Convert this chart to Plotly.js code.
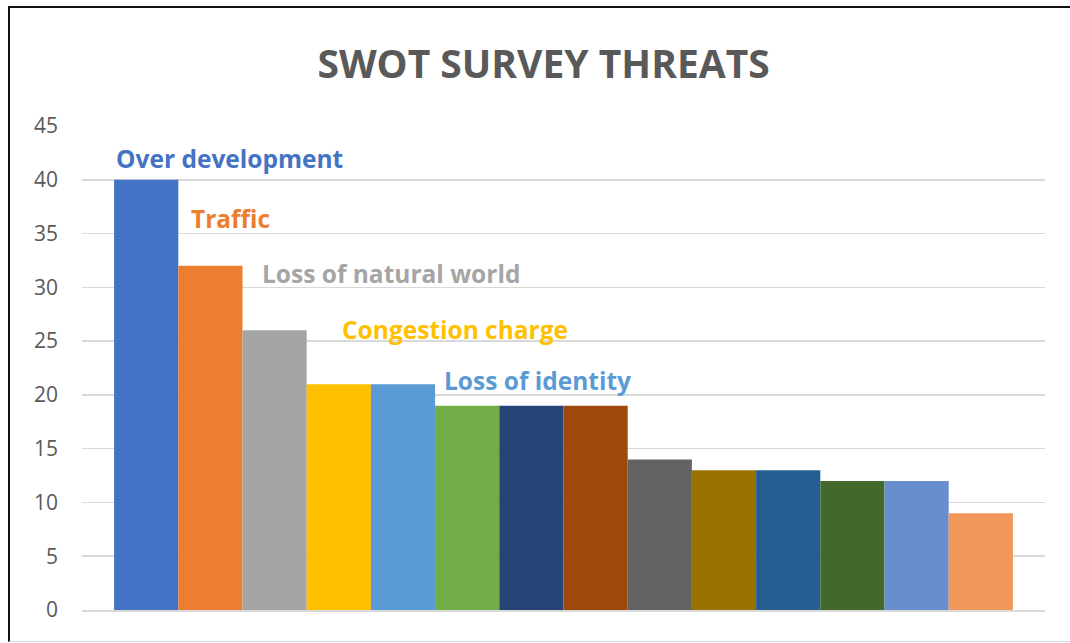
<!DOCTYPE html>
<html>
<head>
<meta charset="utf-8">
<script src="https://cdn.plot.ly/plotly-3.0.1.min.js"></script>
<style>
  html, body { margin: 0; padding: 0; background: #ffffff; }
  #wrap { position: relative; width: 1070px; height: 643px; overflow: hidden; }
  #chart { width: 1070px; height: 643px; }
  #frame { position: absolute; left: 8px; top: 6px; width: 1070px; height: 636px;
           border-top: 2px solid #111; border-left: 2px solid #111; border-bottom: 1px solid #d9d9d9;
           pointer-events: none; box-sizing: border-box; }
</style>
</head>
<body>
<div id="wrap">
  <div id="chart"></div>
  <div id="frame"></div>
</div>
<script>
// Data
const barIndex = [0, 1, 2, 3, 4, 5, 6, 7, 8, 9, 10, 11, 12, 13];
const values   = [40, 32, 26, 21, 21, 19, 19, 19, 14, 13, 13, 12, 12, 9];
const barColors = ["#4472C4", "#ED7D31", "#A5A5A5", "#FFC000", "#5B9BD5", "#70AD47",
                   "#264478", "#9E480E", "#636363", "#997300", "#255E91", "#43682B",
                   "#698ED0", "#F1975A"];
const labelTexts = ["Over development", "Traffic", "Loss of natural world", "Congestion charge", "Loss of identity"];
const labelX     = [-0.50, 0.67, 1.78, 3.02, 4.61];
const labelY     = [42.0, 36.4, 31.3, 26.1, 21.3];
const yTicks     = [0, 5, 10, 15, 20, 25, 30, 35, 40, 45];

const FONT = "'Open Sans', Lato, 'DejaVu Sans', sans-serif";

const trace = {
  type: "bar",
  x: barIndex,
  y: values,
  width: 1,
  marker: { color: barColors, line: { width: 0 } },
  hoverinfo: "y"
};

const annotations = labelTexts.map((t, i) => ({
  x: labelX[i], y: labelY[i], xref: "x", yref: "y",
  text: "<b>" + t + "</b>", showarrow: false,
  xanchor: "left", yanchor: "middle",
  font: { family: FONT, size: 24.5, color: barColors[i] }
}));

const layout = {
  width: 1070, height: 643,
  margin: { l: 82, r: 25, t: 126, b: 33 },
  paper_bgcolor: "#ffffff", plot_bgcolor: "#ffffff",
  showlegend: false,
  title: {
    text: "<b>SWOT SURVEY THREATS</b>",
    font: { family: FONT, size: 39, color: "#595959" },
    x: 0.508, xanchor: "center", y: 1 - 64 / 643, yanchor: "middle", yref: "container"
  },
  xaxis: {
    range: [-1, 14], showticklabels: false, showgrid: false, zeroline: false,
    showline: true, linecolor: "#d9d9d9", linewidth: 1.5, fixedrange: true
  },
  yaxis: {
    range: [0, 45], tickvals: yTicks, ticktext: yTicks.map(String),
    showgrid: true, gridcolor: "#d9d9d9", gridwidth: 1.5, zeroline: false,
    showline: false, ticks: "", ticklabelstandoff: 23,
    tickfont: { family: FONT, size: 21, color: "#595959" }, fixedrange: true
  },
  annotations: annotations
};

Plotly.newPlot("chart", [trace], layout, { displayModeBar: false, staticPlot: true });
</script>
</body>
</html>
